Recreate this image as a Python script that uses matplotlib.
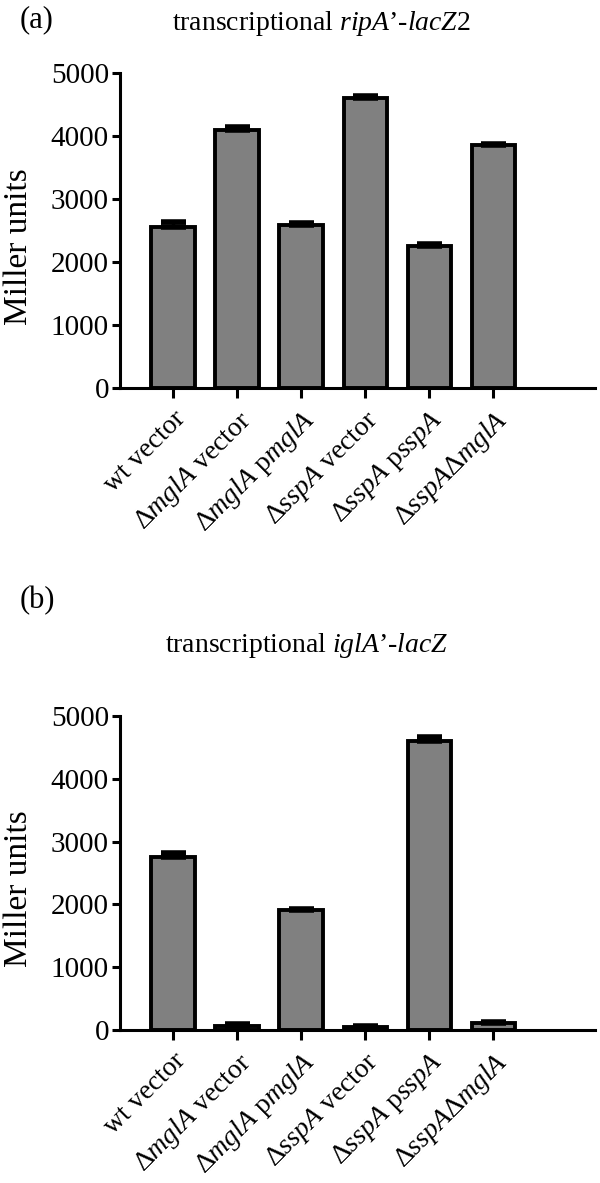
import numpy as np
import matplotlib
matplotlib.use('Agg')
import matplotlib.pyplot as plt

plt.rcParams['font.family'] = ['Liberation Serif', 'DejaVu Serif']
plt.rcParams['mathtext.fontset'] = 'custom'
plt.rcParams['mathtext.rm'] = 'Liberation Serif'
plt.rcParams['mathtext.it'] = 'Liberation Serif:italic'

# strains (x categories)
strains = ['wt vector',
           '\u0394$\\mathit{mglA}$ vector',
           '\u0394$\\mathit{mglA}$ p$\\mathit{mglA}$',
           '\u0394$\\mathit{sspA}$ vector',
           '\u0394$\\mathit{sspA}$ p$\\mathit{sspA}$',
           '\u0394$\\mathit{sspA}$\u0394$\\mathit{mglA}$']

# panel (a) ripA'-lacZ2
ripA_mean = [2560, 4090, 2580, 4610, 2250, 3850]
ripA_err = [70, 50, 45, 30, 35, 25]

# panel (b) iglA'-lacZ
iglA_mean = [2760, 70, 1910, 50, 4610, 110]
iglA_err = [60, 20, 20, 15, 50, 15]

titles = ['transcriptional $\\mathit{ripA\u2019}$-$\\mathit{lacZ2}$',
          'transcriptional $\\mathit{iglA\u2019}$-$\\mathit{lacZ}$']
panel_tags = ['(a)', '(b)']

fig = plt.figure(figsize=(6, 11.83), dpi=100)
ax_a = fig.add_axes([0.2, 0.672, 0.792, 0.2663])
ax_b = fig.add_axes([0.2, 0.1293, 0.792, 0.2654])

x = np.arange(len(strains))
for ax, means, errs in [(ax_a, ripA_mean, ripA_err), (ax_b, iglA_mean, iglA_err)]:
    ax.bar(x, means, width=0.68, color='#808080', edgecolor='black', linewidth=2.8, zorder=2)
    # only the upper error is shown
    ax.errorbar(x, means, yerr=[np.zeros(len(errs)), errs], fmt='none', ecolor='black',
                elinewidth=2.5, capsize=9, capthick=4, zorder=3)
    ax.set_xlim(-0.83, 6.59)
    ax.set_ylim(0, 5000)
    ax.set_yticks([0, 1000, 2000, 3000, 4000, 5000])
    ax.set_xticks(x)
    ax.set_xticklabels(strains, rotation=45, ha='right', rotation_mode='anchor', fontsize=20)
    ax.tick_params(axis='y', labelsize=21, width=2.2, length=6, pad=2)
    ax.tick_params(axis='x', width=2.2, length=7, pad=6)
    for s in ['top', 'right']:
        ax.spines[s].set_visible(False)
    for s in ['left', 'bottom']:
        ax.spines[s].set_linewidth(2.2)
    ax.set_ylabel('Miller units', fontsize=24)
    ax.yaxis.set_label_coords(-0.18, 0.45)

fig.text(0.535, 1 - 23 / 1183, titles[0], ha='center', va='center', fontsize=20)
fig.text(0.512, 1 - 645 / 1183, titles[1], ha='center', va='center', fontsize=20)
fig.text(0.033, 1 - 20 / 1183, panel_tags[0], ha='left', va='center', fontsize=22)
fig.text(0.033, 1 - 601 / 1183, panel_tags[1], ha='left', va='center', fontsize=22)

fig.savefig('out.png', dpi=100)
